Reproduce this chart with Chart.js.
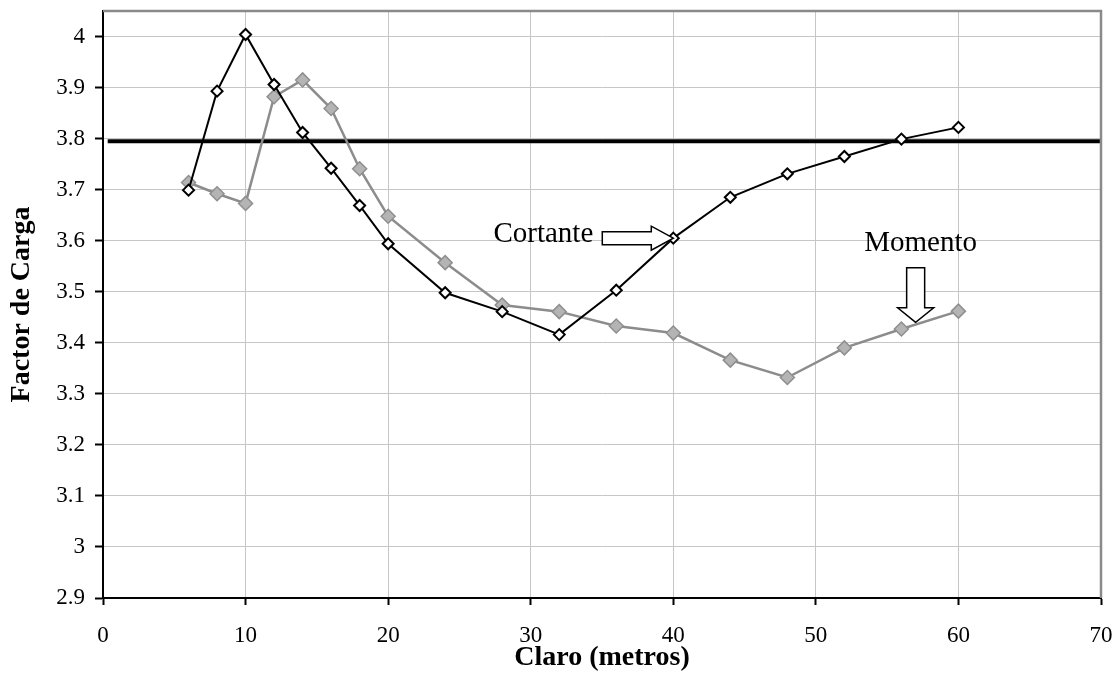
<!DOCTYPE html>
<html>
<head>
<meta charset="utf-8">
<title>Factor de Carga vs Claro</title>
<script src="https://cdn.jsdelivr.net/npm/chart.js@4/dist/chart.umd.min.js"></script>
<style>
  html, body { margin: 0; padding: 0; background: #fff; }
  #wrap { width: 1120px; height: 675px; }
</style>
</head>
<body>
<div id="wrap"><canvas id="factorChart" width="1120" height="675"></canvas></div>
<script>
// Claros (m) y factores de carga por tipo de efecto
const claros = [6, 8, 10, 12, 14, 16, 18, 20, 24, 28, 32, 36, 40, 44, 48, 52, 56, 60];
const cortante = [3.699, 3.893, 4.004, 3.906, 3.812, 3.742, 3.669, 3.594, 3.498, 3.461, 3.416, 3.503, 3.605, 3.685, 3.731, 3.765, 3.799, 3.822];
const momento = [3.714, 3.692, 3.673, 3.882, 3.915, 3.859, 3.741, 3.648, 3.557, 3.474, 3.461, 3.433, 3.419, 3.366, 3.332, 3.390, 3.427, 3.462];

// Linea horizontal de referencia
const refX = [0.33, 70];
const refY = [3.795, 3.795];

// Marcas de los ejes
const xTicks = [0, 10, 20, 30, 40, 50, 60, 70];
const yTicks = [2.9, 3.0, 3.1, 3.2, 3.3, 3.4, 3.5, 3.6, 3.7, 3.8, 3.9, 4.0];

// Puntos a los que apuntan las flechas de las etiquetas
const flechaCortante = { x: 40, y: 3.605 };
const flechaMomento = { x: 57, y: 3.44 };

const serif = "'Liberation Serif', 'Times New Roman', serif";

function toPoints(xs, ys) {
    return xs.map((x, i) => ({ x: x, y: ys[i] }));
}

// Borde gris superior y derecho del area de trazado
const plotFrame = {
    id: 'plotFrame',
    afterDraw(chart) {
        const { ctx, chartArea: a } = chart;
        ctx.save();
        ctx.strokeStyle = '#8a8a8a';
        ctx.lineWidth = 2.5;
        ctx.beginPath();
        ctx.moveTo(a.left, a.top);
        ctx.lineTo(a.right, a.top);
        ctx.lineTo(a.right, a.bottom);
        ctx.stroke();
        ctx.restore();
    }
};

// Etiquetas "Cortante" y "Momento" con sus flechas
const etiquetas = {
    id: 'etiquetas',
    afterDatasetsDraw(chart) {
        const { ctx, scales } = chart;
        ctx.save();
        ctx.fillStyle = '#fff';
        ctx.strokeStyle = '#000';
        ctx.lineWidth = 1.5;
        ctx.lineJoin = 'miter';

        // flecha horizontal hacia el punto de cortante
        let tx = scales.x.getPixelForValue(flechaCortante.x);
        let ty = scales.y.getPixelForValue(flechaCortante.y);
        ctx.beginPath();
        ctx.moveTo(tx, ty);
        ctx.lineTo(tx - 22, ty - 12);
        ctx.lineTo(tx - 22, ty - 6.5);
        ctx.lineTo(tx - 71, ty - 6.5);
        ctx.lineTo(tx - 71, ty + 6.5);
        ctx.lineTo(tx - 22, ty + 6.5);
        ctx.lineTo(tx - 22, ty + 12);
        ctx.closePath();
        ctx.fill();
        ctx.stroke();

        ctx.fillStyle = '#000';
        ctx.font = '29px ' + serif;
        ctx.textAlign = 'right';
        ctx.textBaseline = 'alphabetic';
        ctx.fillText('Cortante', tx - 80, ty + 4);

        // flecha vertical hacia la curva de momento
        tx = scales.x.getPixelForValue(flechaMomento.x);
        ty = scales.y.getPixelForValue(flechaMomento.y);
        ctx.fillStyle = '#fff';
        ctx.beginPath();
        ctx.moveTo(tx, ty);
        ctx.lineTo(tx - 18, ty - 14.5);
        ctx.lineTo(tx - 9, ty - 14.5);
        ctx.lineTo(tx - 9, ty - 54.5);
        ctx.lineTo(tx + 9, ty - 54.5);
        ctx.lineTo(tx + 9, ty - 14.5);
        ctx.lineTo(tx + 18, ty - 14.5);
        ctx.closePath();
        ctx.fill();
        ctx.stroke();

        ctx.fillStyle = '#000';
        ctx.textAlign = 'center';
        ctx.fillText('Momento', tx + 5, ty - 71);
        ctx.restore();
    }
};

function renderChart() {
    const ctx = document.getElementById('factorChart').getContext('2d');
    new Chart(ctx, {
        type: 'line',
        data: {
            datasets: [
                {
                    label: 'Cortante',
                    data: toPoints(claros, cortante),
                    borderColor: '#000',
                    borderWidth: 2,
                    pointStyle: 'rectRot',
                    pointRadius: 5.5,
                    pointBorderWidth: 2,
                    pointBackgroundColor: '#fff',
                    pointBorderColor: '#000',
                    tension: 0,
                    order: 0
                },
                {
                    label: 'Momento',
                    data: toPoints(claros, momento),
                    borderColor: '#8c8c8c',
                    borderWidth: 2.5,
                    pointStyle: 'rectRot',
                    pointRadius: 7,
                    pointBorderWidth: 1.5,
                    pointBackgroundColor: '#b4b4b4',
                    pointBorderColor: '#8f8f8f',
                    tension: 0,
                    order: 1
                },
                {
                    label: 'Referencia',
                    data: toPoints(refX, refY),
                    borderColor: '#000',
                    borderWidth: 4,
                    pointRadius: 0,
                    tension: 0,
                    order: 2
                }
            ]
        },
        options: {
            responsive: false,
            animation: false,
            devicePixelRatio: 1,
            layout: { padding: 0 },
            plugins: {
                legend: { display: false },
                tooltip: { enabled: false }
            },
            scales: {
                x: {
                    type: 'linear',
                    min: 0,
                    max: 70,
                    afterBuildTicks: axis => { axis.ticks = xTicks.map(v => ({ value: v })); },
                    afterFit: axis => {
                        axis.height = 77;
                        axis.paddingLeft = 0;
                        axis.paddingRight = 19;
                    },
                    grid: {
                        color: '#c6c6c6',
                        lineWidth: 1,
                        drawTicks: true,
                        tickLength: 7,
                        tickColor: '#000',
                        tickWidth: 2
                    },
                    border: { display: true, color: '#000', width: 2 },
                    ticks: {
                        color: '#000',
                        padding: 17,
                        font: { family: serif, size: 23 },
                        maxRotation: 0
                    },
                    title: {
                        display: true,
                        text: 'Claro (metros)',
                        color: '#000',
                        padding: { top: 0, bottom: 0 },
                        font: { family: serif, size: 28, weight: 'bold' }
                    }
                },
                y: {
                    type: 'linear',
                    min: 2.9,
                    max: 4.05,
                    afterBuildTicks: axis => { axis.ticks = yTicks.map(v => ({ value: v })); },
                    afterFit: axis => {
                        axis.width = 103;
                        axis.paddingTop = 11;
                        axis.paddingBottom = 0;
                    },
                    grid: {
                        color: '#c6c6c6',
                        lineWidth: 1,
                        drawTicks: true,
                        tickLength: 8,
                        tickColor: '#000',
                        tickWidth: 2
                    },
                    border: { display: true, color: '#000', width: 2 },
                    ticks: {
                        color: '#000',
                        padding: 10,
                        font: { family: serif, size: 23 },
                        callback: v => String(Math.round(v * 10) / 10)
                    },
                    title: {
                        display: true,
                        text: 'Factor de Carga',
                        color: '#000',
                        padding: { top: 5, bottom: 0 },
                        font: { family: serif, size: 28, weight: 'bold' }
                    }
                }
            }
        },
        plugins: [plotFrame, etiquetas]
    });
}

document.addEventListener('DOMContentLoaded', renderChart);
</script>
</body>
</html>
